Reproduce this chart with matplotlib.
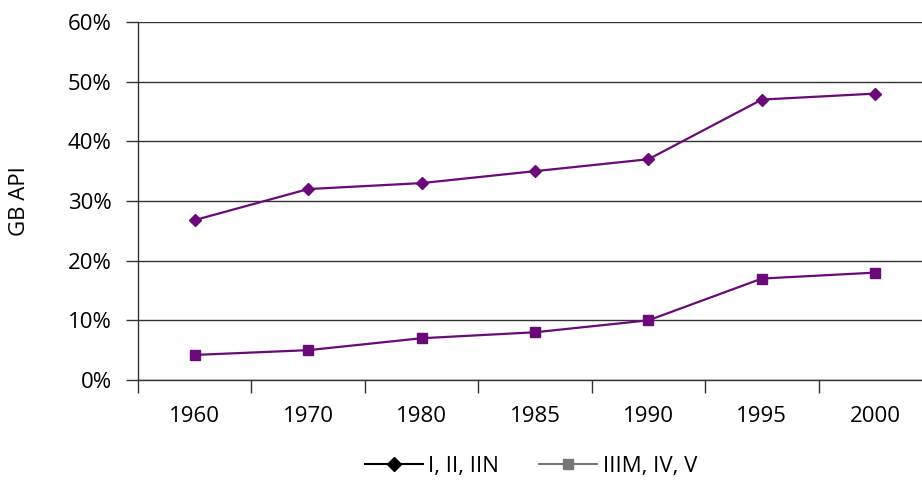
import matplotlib
matplotlib.use("Agg")
import matplotlib.pyplot as plt
from matplotlib.lines import Line2D
from matplotlib.ticker import FuncFormatter

categories = ["1960", "1970", "1980", "1985", "1990", "1995", "2000"]
series_top = [26.8, 32, 33, 35, 37, 47, 48]
series_bottom = [4.2, 5, 7, 8, 10, 17, 18]
legend_labels = ["I, II, IIN", "IIIM, IV, V"]

plt.rcParams['font.family'] = ['Open Sans', 'DejaVu Sans']
purple = "#6a0a78"
fs = 16

fig = plt.figure(figsize=(9.22, 4.86), dpi=100)
W, H = 922, 486
left, right, top, bottom = 138, 932, 22, 380
ax = fig.add_axes([left / W, 1 - bottom / H, (right - left) / W, (bottom - top) / H])

x = list(range(len(categories)))
ax.plot(x, series_top, color=purple, lw=1.6, marker="D", ms=6, clip_on=False, zorder=3)
ax.plot(x, series_bottom, color=purple, lw=1.6, marker="s", ms=7, clip_on=False, zorder=3)

ax.set_xlim(-0.5, len(categories) - 0.5)
ax.set_ylim(0, 60)
ax.set_yticks(range(0, 61, 10))
ax.yaxis.set_major_formatter(FuncFormatter(lambda v, p: f"{int(v)}%"))
ax.set_xticks(x)
ax.set_xticklabels(categories)
ax.set_xticks([i - 0.5 for i in range(len(categories) + 1)], minor=True)
ax.tick_params(axis="x", which="major", length=0, pad=19, labelsize=fs)
ax.tick_params(axis="x", which="minor", length=9, width=1, color="#333333")
ax.tick_params(axis="y", length=9, width=1, color="#333333", labelsize=fs, pad=10)
ax.grid(axis="y", color="#333333", lw=1)
ax.set_axisbelow(True)
for s in ["top", "right"]:
    ax.spines[s].set_visible(False)
for s in ["left", "bottom"]:
    ax.spines[s].set_color("#333333")
    ax.spines[s].set_linewidth(1)
ax.set_ylabel("GB API", fontsize=fs)
ax.yaxis.set_label_coords((30 - left) / (right - left), 0.5)

handles = [
    Line2D([], [], color="black", lw=1.5, marker="D", ms=7),
    Line2D([], [], color="#777777", lw=1.5, marker="s", ms=7),
]
fig.legend(handles, legend_labels, loc="center", bbox_to_anchor=(531 / W, 1 - 466 / H),
           ncol=2, frameon=False, fontsize=fs, handlelength=2.6, columnspacing=1.8,
           handletextpad=0.25)

fig.savefig("out.png", dpi=100)
